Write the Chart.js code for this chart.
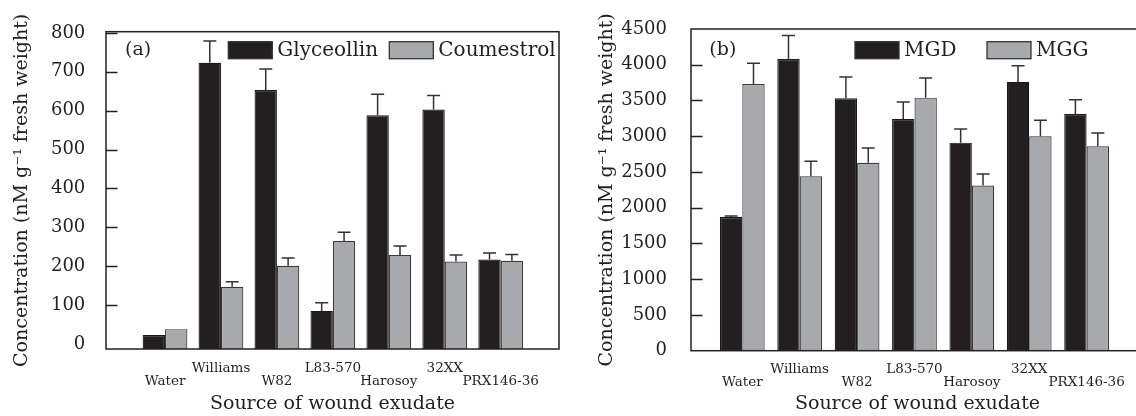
<!DOCTYPE html>
<html>
<head>
<meta charset="utf-8">
<script src="https://cdn.jsdelivr.net/npm/chart.js@4.4.1/dist/chart.umd.min.js"></script>
<style>
  html, body { margin: 0; padding: 0; background: #fff; overflow: hidden; width: 1136px; height: 416px; }
  canvas { position: absolute; top: 0; }
  #chartA { left: 0; }
  #chartB { left: 570px; }
</style>
</head>
<body>
<canvas id="chartA" width="570" height="416"></canvas>
<canvas id="chartB" width="590" height="416"></canvas>
<script>
const categories = ["Water", "Williams", "W82", "L83-570", "Harosoy", "32XX", "PRX146-36"];

// panel (a)
const glyceollin = [23, 723, 653, 85, 588, 603, 217];
const glyceollinErr = [0, 56, 54, 21, 54, 36, 17];
const coumestrol = [38, 147, 201, 265, 229, 212, 214];
const coumestrolErr = [0, 13, 20, 22, 23, 17, 16];
const ticksA = [0, 100, 200, 300, 400, 500, 600, 700, 800];

// panel (b)
const mgd = [1870, 4080, 3530, 3240, 2910, 3760, 3310];
const mgdErr = [15, 330, 300, 240, 190, 225, 200];
const mgg = [3730, 2440, 2630, 3540, 2310, 3000, 2860];
const mggErr = [290, 210, 205, 275, 160, 225, 185];
const ticksB = [0, 500, 1000, 1500, 2000, 2500, 3000, 3500, 4000, 4500];

const SERIF = "'DejaVu Serif', serif";
const INK = "#231f20";
const DARK = "#231f20";
const GREY = "#a7a9ac";

const tickLabel = (i) => (i % 2 === 0 ? ["", categories[i]] : [categories[i], ""]);

const panelPlugin = {
  id: "panel",
  afterDatasetsDraw(chart, args, o) {
    const { ctx, chartArea: a, scales: { y } } = chart;
    ctx.save();

    // error bars (upper only)
    ctx.strokeStyle = "#333";
    ctx.lineWidth = 1.5;
    chart.data.datasets.forEach((ds, di) => {
      chart.getDatasetMeta(di).data.forEach((bar, i) => {
        if (!ds.err[i]) return;
        const yTop = y.getPixelForValue(ds.data[i].y + ds.err[i]);
        ctx.beginPath();
        ctx.moveTo(bar.x, bar.y);
        ctx.lineTo(bar.x, yTop);
        ctx.moveTo(bar.x - 6.5, yTop);
        ctx.lineTo(bar.x + 6.5, yTop);
        ctx.stroke();
      });
    });

    // frame
    ctx.strokeStyle = INK;
    ctx.lineWidth = 1.5;
    ctx.strokeRect(a.left, a.top, a.right - a.left, a.bottom - a.top);

    // inward y ticks
    y.ticks.forEach((t) => {
      if (t.value <= 0 || t.value >= y.max) return;
      const py = Math.round(y.getPixelForValue(t.value)) + 0.5;
      ctx.beginPath();
      ctx.moveTo(a.left, py);
      ctx.lineTo(a.left + 11.5, py);
      ctx.stroke();
    });

    // panel letter
    ctx.fillStyle = INK;
    ctx.font = "19px " + SERIF;
    ctx.textBaseline = "middle";
    ctx.textAlign = "left";
    ctx.fillText(o.letter, a.left + o.letterX, a.top + o.letterY);

    // legend inside the plot
    ctx.font = "20px " + SERIF;
    chart.data.datasets.forEach((ds, di) => {
      const bx = a.left + o.legendX[di];
      const by = a.top + o.legendY;
      ctx.fillStyle = ds.backgroundColor;
      ctx.fillRect(bx, by, 44, 17);
      ctx.strokeStyle = "#333";
      ctx.lineWidth = 1.3;
      ctx.strokeRect(bx, by, 44, 17);
      ctx.fillStyle = INK;
      ctx.fillText(ds.label, bx + 49, by + 9);
    });
    ctx.restore();
  },
};

function makePanel(id, p) {
  new Chart(document.getElementById(id), {
    type: "bar",
    data: {
      datasets: [
        {
          label: p.names[0],
          data: p.values[0].map((v, i) => ({ x: i, y: v })),
          err: p.errs[0],
          backgroundColor: DARK,
          borderColor: "#1a1718",
          borderWidth: 1.2,
          base: p.yMin,
        },
        {
          label: p.names[1],
          data: p.values[1].map((v, i) => ({ x: i, y: v })),
          err: p.errs[1],
          backgroundColor: GREY,
          borderColor: "#3a3a3a",
          borderWidth: 1.2,
          base: p.yMin,
        },
      ],
    },
    options: {
      responsive: false,
      animation: false,
      events: [],
      layout: { padding: { left: 0, right: p.padRight, top: p.padTop, bottom: 0 } },
      datasets: { bar: { categoryPercentage: p.catPct, barPercentage: 1 } },
      plugins: {
        legend: { display: false },
        tooltip: { enabled: false },
        panel: { letter: p.letter, letterX: p.letterX, letterY: p.letterY, legendX: p.legendX, legendY: p.legendY },
      },
      scales: {
        x: {
          type: "linear",
          min: p.xMin,
          max: p.xMax,
          offset: false,
          grid: { display: false, offset: false },
          border: { display: false },
          afterBuildTicks: (s) => {
            s.ticks = categories.map((_, i) => ({ value: i }));
          },
          afterFit: (s) => {
            s.height = p.xAxisHeight;
          },
          ticks: {
            autoSkip: false,
            maxRotation: 0,
            padding: p.xTickPad,
            color: INK,
            font: { family: SERIF, size: 13.5, lineHeight: 0.94 },
            callback: (v, i) => tickLabel(i),
          },
          title: {
            display: true,
            text: "Source of wound exudate",
            color: INK,
            font: { family: SERIF, size: 19, lineHeight: 1.2 },
            padding: { top: 0, bottom: 1 },
          },
        },
        y: {
          min: p.yMin,
          max: p.yMax,
          grid: { display: false },
          border: { display: false },
          afterBuildTicks: (s) => {
            s.ticks = p.ticks.map((v) => ({ value: v }));
          },
          afterFit: (s) => {
            s.width = p.yAxisWidth;
          },
          ticks: {
            padding: p.yTickPad,
            color: INK,
            font: { family: SERIF, size: 18 },
            callback: (v) => String(v),
          },
          title: {
            display: true,
            text: "Concentration (nM g\u207B\u00B9 fresh weight)",
            color: INK,
            font: { family: SERIF, size: 19, lineHeight: 1.2 },
            padding: { top: p.yTitlePad, bottom: 0 },
          },
        },
      },
    },
    plugins: [panelPlugin],
  });
}

makePanel("chartA", {
  names: ["Glyceollin", "Coumestrol"],
  values: [glyceollin, coumestrol],
  errs: [glyceollinErr, coumestrolErr],
  ticks: ticksA,
  yMin: -13,
  yMax: 803,
  xMin: -1.055,
  xMax: 7.042,
  catPct: 0.8,
  padRight: 11,
  padTop: 31.7,
  yAxisWidth: 106,
  xAxisHeight: 67,
  yTickPad: 12.7,
  yTitlePad: 10.3,
  xTickPad: 5.3,
  letter: "(a)",
  letterX: 19,
  letterY: 18.3,
  legendX: [122.3, 283.3],
  legendY: 10,
});

makePanel("chartB", {
  names: ["MGD", "MGG"],
  values: [mgd, mgg],
  errs: [mgdErr, mggErr],
  ticks: ticksB,
  yMin: 0,
  yMax: 4500,
  xMin: -0.894,
  xMax: 7.0,
  catPct: 0.78,
  padRight: 16,
  padTop: 29,
  yAxisWidth: 121,
  xAxisHeight: 65.3,
  yTickPad: 16,
  yTitlePad: 25.3,
  xTickPad: 4.5,
  letter: "(b)",
  letterX: 18.3,
  letterY: 21,
  legendX: [164, 296],
  legendY: 12.7,
});
</script>
</body>
</html>
